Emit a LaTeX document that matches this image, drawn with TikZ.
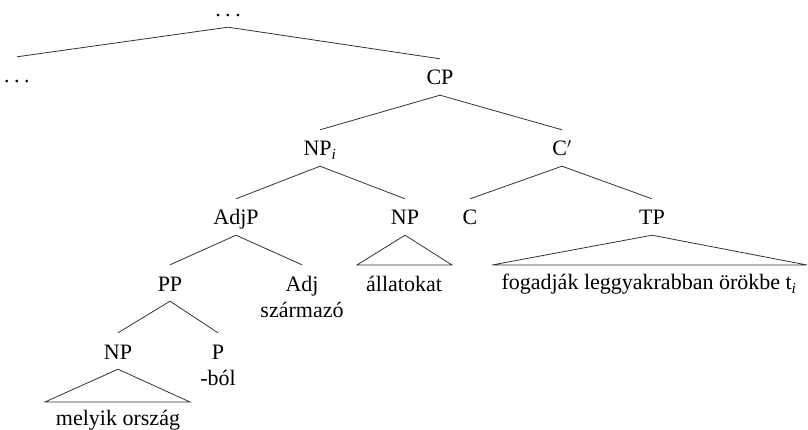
\documentclass[tikz,border=0pt]{standalone}
\usepackage{fontspec}
\setmainfont{Liberation Serif}
\newcommand{\spaceddots}{.\kern4.5pt.\kern4.5pt.}
\begin{document}
\begin{tikzpicture}[x=1pt,y=-1pt,
  lbl/.style={anchor=base,inner xsep=0pt,inner ysep=2pt,text height=24pt,text depth=8pt,
    font=\fontsize{22}{26.4}\selectfont},
  word/.style={anchor=base,inner sep=0pt,font=\fontsize{22}{26.4}\selectfont},
  branch/.style={draw=black!80,line width=0.8pt}]
\useasboundingbox (0,0) rectangle (808,430);

% constituent labels (placed on their baselines)
\node[lbl] (top)  at (228,17)  {\spaceddots};
\node[lbl] (ldots) at (17,83)  {\spaceddots};
\node[lbl] (cp)   at (440,85)  {CP};
\node[lbl] (npi)  at (320,156) {NP\textsubscript{\textit{i}}};
\node[lbl] (cbar) at (562,156) {C$'$};
\node[lbl] (adjp) at (236,225) {AdjP};
\node[lbl] (np2)  at (405,225) {NP};
\node[lbl] (c)    at (470,225) {C};
\node[lbl] (tp)   at (652,225) {TP};
\node[lbl] (pp)   at (170,291) {PP};
\node[lbl] (adj)  at (302,291) {Adj};
\node[lbl] (np3)  at (118,359) {NP};
\node[lbl] (p)    at (218,359) {P};

% terminal words
\node[word] (w-adj)  at (302,317) {származó};
\node[word] (w-p)    at (218,385) {-ból};
\node[word] (w-np2)  at (404,291) {állatokat};
\node[word] (w-tp)   at (649,290) {fogadják leggyakrabban örökbe t\textsubscript{\textit{i}}};
\node[word] (w-np3)  at (118,425) {melyik ország};

% base corners of the triangles
\coordinate (np2-l) at (357,265);
\coordinate (np2-r) at (452,265);
\coordinate (tp-l)  at (492,265);
\coordinate (tp-r)  at (807,265);
\coordinate (np3-l) at (45,402);
\coordinate (np3-r) at (190,402);

% branches
\draw[branch] (ldots.north) -- (top.south) -- (cp.north);
\draw[branch] (npi.north) -- (cp.south) -- (cbar.north);
\draw[branch] (adjp.north) -- (npi.south) -- (np2.north);
\draw[branch] (c.north) -- (cbar.south) -- (tp.north);
\draw[branch] (pp.north) -- (adjp.south) -- (adj.north);
\draw[branch] (np3.north) -- (pp.south) -- (p.north);

% triangles
\draw[branch] (np2.south) -- (np2-l) -- (np2-r) -- cycle;
\draw[branch] (tp.south) -- (tp-l) -- (tp-r) -- cycle;
\draw[branch] (np3.south) -- (np3-l) -- (np3-r) -- cycle;
\end{tikzpicture}
\end{document}
